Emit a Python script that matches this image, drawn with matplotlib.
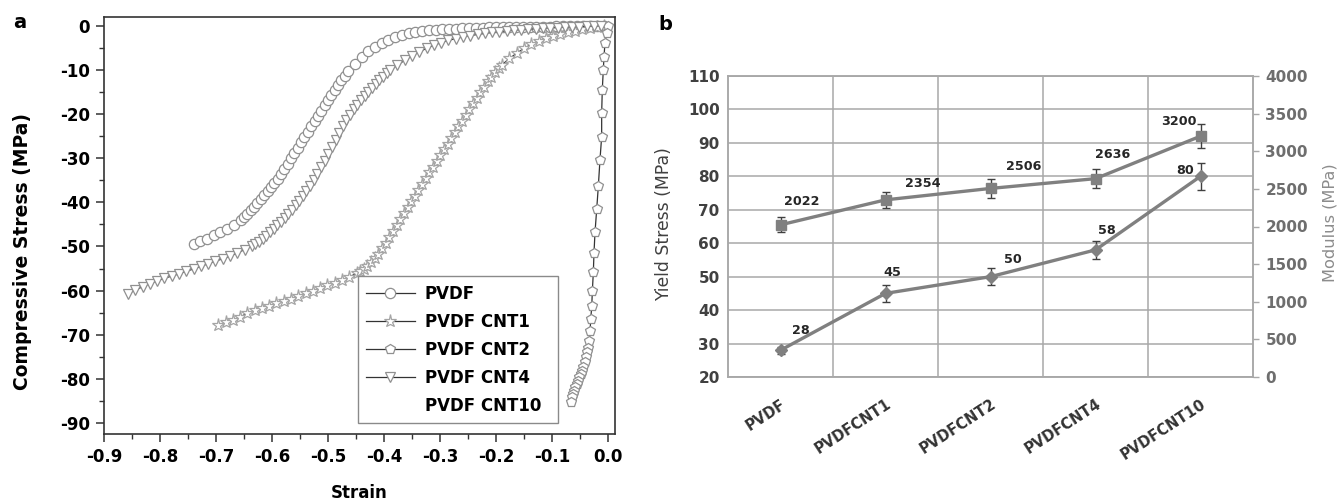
import matplotlib
matplotlib.use("Agg")
import matplotlib.pyplot as plt
from matplotlib.ticker import MultipleLocator, FixedLocator, FormatStrFormatter

plt.rcParams['font.family'] = ['DejaVu Sans']
plt.rcParams['axes.unicode_minus'] = False

# ---------------- Panel a data (strain, compressive stress MPa) ----------------
pvdf_strain = [-0.740, -0.728, -0.716, -0.704, -0.692, -0.680, -0.668, -0.656, -0.650, -0.644,
               -0.638, -0.632, -0.626, -0.620, -0.614, -0.608, -0.602, -0.596, -0.590, -0.584,
               -0.578, -0.572, -0.566, -0.560, -0.554, -0.548, -0.542, -0.536, -0.530, -0.524,
               -0.518, -0.512, -0.506, -0.500, -0.494, -0.488, -0.482, -0.476, -0.470, -0.464,
               -0.452, -0.440, -0.428, -0.416, -0.404, -0.392,
               -0.380, -0.368, -0.356, -0.344, -0.332, -0.320, -0.308, -0.296, -0.284, -0.272,
               -0.260, -0.248, -0.236, -0.224, -0.212, -0.200, -0.188, -0.176, -0.164, -0.152,
               -0.140, -0.128, -0.116, -0.104, -0.092, -0.080, -0.068, -0.056, -0.044, -0.032,
               -0.020, -0.008]
pvdf_stress = [-49.5, -48.8, -48.2, -47.5, -46.7, -46.0, -45.2, -44.0, -43.3, -42.6,
               -41.8, -41.0, -40.1, -39.2, -38.4, -37.5, -36.6, -35.6, -34.6, -33.5,
               -32.4, -31.2, -30.0, -28.8, -27.6, -26.4, -25.2, -24.0, -22.8, -21.6,
               -20.4, -19.3, -18.0, -16.8, -15.6, -14.5, -13.4, -12.3, -11.3, -10.3,
               -8.6, -7.1, -5.8, -4.7, -3.8, -3.1,
               -2.5, -2.0, -1.65, -1.4, -1.2, -1.05, -0.9, -0.8, -0.7, -0.62,
               -0.55, -0.5, -0.45, -0.4, -0.37, -0.34, -0.31, -0.28, -0.26, -0.24,
               -0.22, -0.2, -0.18, -0.16, -0.14, -0.12, -0.1, -0.08, -0.06, -0.04,
               -0.03, -0.01]

cnt1_strain = [-0.696, -0.683, -0.670, -0.657, -0.644, -0.631, -0.618, -0.605, -0.592, -0.579,
               -0.566, -0.553, -0.540, -0.527, -0.514, -0.501, -0.488, -0.475, -0.462, -0.449,
               -0.4425, -0.436, -0.4295, -0.423, -0.4165, -0.410, -0.4035, -0.397, -0.3905, -0.384,
               -0.3775, -0.371, -0.3645, -0.358, -0.3515, -0.345, -0.3385, -0.332, -0.3255, -0.319,
               -0.3125, -0.306, -0.2995, -0.293, -0.2865, -0.280, -0.2735, -0.267, -0.2605, -0.254,
               -0.2475, -0.241, -0.2345, -0.228, -0.2215, -0.215, -0.2085, -0.202, -0.1955, -0.189,
               -0.176, -0.163, -0.150, -0.137, -0.124, -0.111, -0.098, -0.085, -0.072, -0.059,
               -0.046, -0.033, -0.020, -0.007]
cnt1_stress = [-67.8, -67.2, -66.6, -66.0, -65.1, -64.5, -63.9, -63.4, -62.9, -62.4,
               -61.8, -61.2, -60.6, -60.0, -59.4, -58.8, -58.2, -57.6, -56.9, -56.1,
               -55.6, -55.1, -54.4, -53.6, -52.7, -51.6, -50.4, -49.2, -47.9, -46.6,
               -45.2, -43.8, -42.4, -41.0, -39.8, -38.5, -37.1, -35.8, -34.5, -33.2,
               -31.9, -30.6, -29.3, -28.0, -26.7, -25.4, -24.1, -22.8, -21.5, -20.2,
               -18.9, -17.6, -16.3, -15.0, -13.8, -12.6, -11.5, -10.5, -9.6, -8.8,
               -7.4, -6.2, -5.1, -4.2, -3.4, -2.7, -2.2, -1.8, -1.5, -1.1,
               -0.8, -0.5, -0.3, -0.1]

cnt2_strain = [0.0, -0.0023, -0.0054, -0.0071, -0.0084, -0.0102, -0.0113, -0.0113, -0.0143, -0.0173,
               -0.0202, -0.0232, -0.0250, -0.0262, -0.0280, -0.0290, -0.0309, -0.0320, -0.0334, -0.0352,
               -0.0370, -0.0393, -0.0410, -0.0440, -0.0464, -0.0488, -0.0512, -0.0536, -0.0559, -0.0584,
               -0.0607, -0.0630, -0.0648, -0.0660]
cnt2_stress = [0.0, -1.6, -3.8, -7.0, -10.0, -14.5, -19.7, -25.1, -30.3, -36.4,
               -41.6, -46.8, -51.4, -55.9, -60.2, -63.6, -66.5, -69.2, -71.5, -72.9,
               -74.0, -75.1, -76.2, -77.4, -78.3, -79.0, -79.6, -80.5, -81.2, -81.9,
               -82.8, -83.5, -84.2, -85.3]

cnt4_strain = [-0.857, -0.844, -0.831, -0.818, -0.805, -0.792, -0.779, -0.766, -0.753, -0.740,
               -0.727, -0.714, -0.701, -0.688, -0.675, -0.662, -0.649, -0.636, -0.6295, -0.623,
               -0.6165, -0.610, -0.6035, -0.597, -0.5905, -0.584, -0.5775, -0.571, -0.5645, -0.558,
               -0.5515, -0.545, -0.5385, -0.532, -0.5255, -0.519, -0.5125, -0.506, -0.4995, -0.493,
               -0.4865, -0.480, -0.4735, -0.467, -0.4605, -0.454, -0.4475, -0.441, -0.4345, -0.428,
               -0.4215, -0.415, -0.4085, -0.402, -0.3955, -0.389, -0.376, -0.363, -0.350, -0.337,
               -0.324, -0.311, -0.298, -0.285, -0.272, -0.259, -0.246, -0.233, -0.220, -0.207,
               -0.194, -0.181, -0.168, -0.155, -0.142, -0.129, -0.116, -0.103, -0.090, -0.077,
               -0.064, -0.051, -0.038, -0.025, -0.012]
cnt4_stress = [-60.7, -59.9, -59.1, -58.4, -57.8, -57.2, -56.7, -56.2, -55.6, -55.1,
               -54.5, -53.9, -53.3, -52.8, -52.2, -51.5, -50.7, -49.9, -49.5, -49.0,
               -48.4, -47.6, -46.8, -46.0, -45.2, -44.4, -43.5, -42.6, -41.7, -40.7,
               -39.7, -38.6, -37.4, -36.2, -34.9, -33.6, -32.1, -30.6, -29.0, -27.4,
               -25.8, -24.3, -22.8, -21.4, -20.1, -18.9, -17.9, -16.9, -15.9, -15.0,
               -14.1, -13.2, -12.3, -11.5, -10.8, -10.1, -8.9, -7.8, -6.8, -5.9,
               -5.1, -4.4, -3.8, -3.3, -2.9, -2.5, -2.2, -1.95, -1.7, -1.5,
               -1.3, -1.15, -1.0, -0.88, -0.76, -0.66, -0.56, -0.48, -0.4, -0.32,
               -0.25, -0.19, -0.13, -0.08, -0.03]

legend_labels = ['PVDF', 'PVDF CNT1', 'PVDF CNT2', 'PVDF CNT4', 'PVDF CNT10']

# ---------------- Panel b data ----------------
categories = ['PVDF', 'PVDFCNT1', 'PVDFCNT2', 'PVDFCNT4', 'PVDFCNT10']
yield_stress = [28, 45, 50, 58, 80]
yield_err = [1.0, 2.5, 2.6, 2.8, 4.0]
modulus = [2022, 2354, 2506, 2636, 3200]
modulus_err = [100, 110, 130, 130, 160]

# label offsets (pixels) for data labels
mod_offsets = [(21, 23), (37, 16), (33, 22), (17, 24), (-22, 15)]
yld_offsets = [(20, 20), (7, 21), (22, 17), (11, 19), (-15, 6)]

W, H = 1337, 500
fig = plt.figure(figsize=(W / 100, H / 100), dpi=100)

# ================= Panel a =================
axa = fig.add_axes([104 / W, 1 - 434 / H, 511 / W, 417 / H])
edge = '#909090'
line_c = '#333333'
common = dict(color=line_c, linewidth=0.9, markerfacecolor='white', markeredgewidth=0.9)
axa.plot(pvdf_strain, pvdf_stress, marker='o', markersize=7.4, markeredgecolor=edge, label=legend_labels[0], **common)
axa.plot(cnt1_strain, cnt1_stress, marker='*', markersize=9.5, markeredgecolor='#a5a5a5', label=legend_labels[1], **common)
axa.plot(cnt2_strain, cnt2_stress, marker='p', markersize=7.0, markeredgecolor=edge, label=legend_labels[2], **common)
axa.plot(cnt4_strain, cnt4_stress, marker='v', markersize=7.5, markeredgecolor=edge, label=legend_labels[3], **common)
axa.plot([], [], linestyle='none', marker='none', label=legend_labels[4])

axa.set_xlim(-0.9, 0.0125)
axa.set_ylim(-92.5, 2.0)
axa.xaxis.set_major_locator(MultipleLocator(0.1))
axa.xaxis.set_minor_locator(MultipleLocator(0.05))
axa.yaxis.set_major_locator(MultipleLocator(10))
axa.yaxis.set_minor_locator(MultipleLocator(5))
axa.xaxis.set_major_formatter(FormatStrFormatter('%.1f'))
axa.tick_params(which='major', direction='out', length=6, width=1.1, color='#333333',
                labelsize=12, pad=4)
axa.tick_params(which='minor', direction='out', length=3.5, width=1.0, color='#333333')
for lab in axa.get_xticklabels() + axa.get_yticklabels():
    lab.set_fontweight('bold')
for s in axa.spines.values():
    s.set_color('#333333')
    s.set_linewidth(1.2)

axa.set_xlabel('Strain', fontsize=12, fontweight='bold')
axa.xaxis.set_label_coords(0.499, -0.12)
fig.text(23 / W, 1 - 251 / H, 'Compressive Stress (MPa)', rotation=90, ha='center', va='center',
         fontsize=13.5, fontweight='bold')

leg = axa.legend(loc='lower left', bbox_to_anchor=(0.497, 0.026, 0.391, 0.353), mode='expand',
                 borderaxespad=0, fancybox=False, framealpha=1, edgecolor='#8a8a8a',
                 prop={'weight': 'bold', 'size': 12}, handlelength=2.9, handletextpad=0.6,
                 labelspacing=0.6, borderpad=0.5, numpoints=1)
leg.get_frame().set_linewidth(1.0)
leg.set_zorder(5)

fig.text(20 / W, 1 - 22 / H, 'a', fontsize=14, fontweight='bold', ha='center', va='center')
fig.text(665 / W, 1 - 25 / H, 'b', fontsize=14, fontweight='bold', ha='center', va='center')

# ================= Panel b =================
axb = fig.add_axes([728 / W, 1 - 377 / H, 525 / W, 301 / H])
axr = axb.twinx()
pos = list(range(len(categories)))
grid_c = '#a8a8a8'
series_c = '#808080'

axb.set_xlim(-0.5, len(categories) - 0.5)
axb.set_ylim(20, 110)
axb.yaxis.set_major_locator(MultipleLocator(10))
axb.set_xticks(pos)
axb.set_xticklabels(categories)
axb.xaxis.set_minor_locator(FixedLocator([0.5, 1.5, 2.5, 3.5]))
axb.grid(axis='y', which='major', color=grid_c, linewidth=1.1)
axb.grid(axis='x', which='minor', color=grid_c, linewidth=1.1)
axb.set_axisbelow(True)
axb.tick_params(axis='y', length=0, labelsize=11, labelcolor='#404040', pad=6)
axb.tick_params(axis='x', which='both', length=0, labelsize=10.5, labelcolor='#333333', pad=14)
for lab in axb.get_yticklabels():
    lab.set_fontweight('bold')
for lab in axb.get_xticklabels():
    lab.set_fontweight('bold')
    lab.set_rotation(33)
    lab.set_ha('right')
    lab.set_va('top')
    lab.set_rotation_mode('anchor')
for ax in (axb, axr):
    for s in ax.spines.values():
        s.set_color(grid_c)
        s.set_linewidth(1.1)

axb.errorbar(pos, yield_stress, yerr=yield_err, color=series_c, linewidth=2.4, marker='D',
             markersize=6.5, markerfacecolor=series_c, markeredgecolor=series_c,
             ecolor='#404040', elinewidth=1.0, capsize=3, capthick=1.0, zorder=3)
for x, v, (dx, dy) in zip(pos, yield_stress, yld_offsets):
    axb.annotate(str(v), (x, v), xytext=(dx, dy), textcoords='offset pixels', ha='center',
                 va='center', fontsize=9.2, fontweight='bold', color='#262626')

axr.set_ylim(0, 4000)
axr.yaxis.set_major_locator(MultipleLocator(500))
axr.tick_params(axis='y', length=4, width=1.0, color=grid_c, labelsize=11, labelcolor='#6e6e6e', pad=5)
for lab in axr.get_yticklabels():
    lab.set_fontweight('bold')
axr.errorbar(pos, modulus, yerr=modulus_err, color=series_c, linewidth=2.4, marker='s',
             markersize=7, markerfacecolor=series_c, markeredgecolor=series_c,
             ecolor='#404040', elinewidth=1.0, capsize=3, capthick=1.0, zorder=3)
for x, v, (dx, dy) in zip(pos, modulus, mod_offsets):
    axr.annotate(str(v), (x, v), xytext=(dx, dy), textcoords='offset pixels', ha='center',
                 va='center', fontsize=9.2, fontweight='bold', color='#262626')

fig.text(664 / W, 1 - 224 / H, 'Yield Stress (MPa)', rotation=90, ha='center', va='center',
         fontsize=12.4, color='#404040')
fig.text(1330 / W, 1 - 223 / H, 'Modulus (MPa)', rotation=90, ha='center', va='center',
         fontsize=11.7, color='#8c8c8c')

fig.savefig('out.png', dpi=100)
